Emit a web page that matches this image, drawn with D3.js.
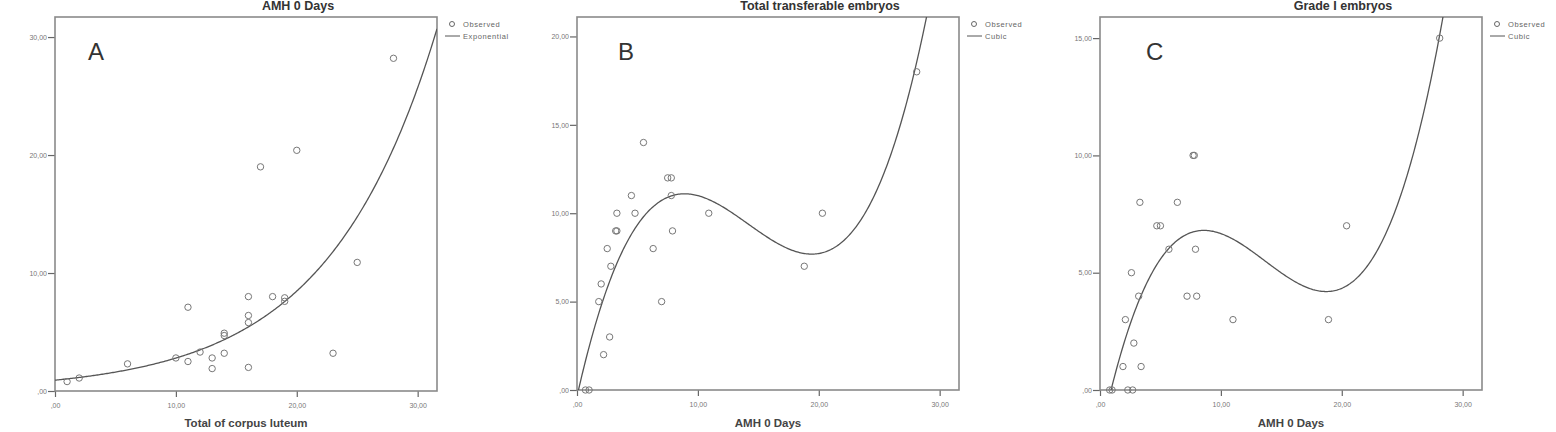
<!DOCTYPE html>
<html>
<head>
<meta charset="utf-8">
<script src="https://cdn.jsdelivr.net/npm/d3@7"></script>
<style>
  body { margin: 0; background: #fff; }
  svg { display: block; font-family: "Liberation Sans", Arial, sans-serif; -webkit-font-smoothing: antialiased; }
</style>
</head>
<body>
<svg id="chart" width="1556" height="432"></svg>
<script>
// panel A: AMH vs total corpus luteum
const corpusLuteum = [1, 2, 6, 10, 11, 11, 12, 13, 13, 14, 14, 14, 16, 16, 16, 16, 17, 18, 19, 19, 20, 23, 25, 28]
const amhA = [0.8, 1.1, 2.3, 2.8, 2.5, 7.1, 3.3, 2.8, 1.9, 4.9, 4.7, 3.2, 8.0, 6.4, 5.8, 2.0, 19.0, 8.0, 7.9, 7.6, 20.4, 3.2, 10.9, 28.2]
const expCoef = [0.92, 0.111] // y = a * exp(b x)

// panel B: transferable embryos vs AMH
const amhB = [0.7, 1.0, 1.8, 2.0, 2.2, 2.5, 2.7, 2.8, 3.2, 3.3, 3.3, 4.5, 4.8, 5.5, 6.3, 7.0, 7.5, 7.8, 7.8, 7.9, 10.9, 18.8, 20.3, 28.1]
const transferable = [0, 0, 5, 6, 2, 8, 3, 7, 9, 9, 10, 11, 10, 14, 8, 5, 12, 12, 11, 9, 10, 7, 10, 18]
const cubicB = [-0.37, 3.043, -0.2494, 0.005874]

// panel C: grade I embryos vs AMH
const amhC = [0.8, 1.0, 2.3, 2.7, 1.9, 3.4, 2.8, 2.1, 11.0, 18.9, 3.2, 7.2, 8.0, 2.6, 5.7, 7.9, 4.7, 5.0, 20.4, 3.3, 6.4, 7.7, 7.8, 28.1]
const grade1 = [0, 0, 0, 0, 1, 1, 2, 3, 3, 3, 4, 4, 4, 5, 6, 6, 7, 7, 7, 8, 8, 10, 10, 15]
const cubicC = [-2.06, 2.435, -0.2067, 0.005047]

const xTicks = [0, 10, 20, 30]

const cubic = c => x => c[0] + c[1] * x + c[2] * x * x + c[3] * x * x * x
const expo = c => x => c[0] * Math.exp(c[1] * x)

const fmt = v => v === 0 ? ',00' : v.toFixed(2).replace('.', ',')

const panels = [
  { id: 'A', title: 'AMH 0 Days', xTitle: 'Total of corpus luteum', fit: 'Exponential',
    xs: corpusLuteum, ys: amhA, f: expo(expCoef),
    left: 55, right: 437, top: 17, bottom: 391, yMax: 31.7, yTicks: [0, 10, 20, 30], letterDx: 33 },
  { id: 'B', title: 'Total transferable embryos', xTitle: 'AMH 0 Days', fit: 'Cubic',
    xs: amhB, ys: transferable, f: cubic(cubicB),
    left: 577, right: 959, top: 17, bottom: 390, yMax: 21.1, yTicks: [0, 5, 10, 15, 20], letterDx: 41 },
  { id: 'C', title: 'Grade I embryos', xTitle: 'AMH 0 Days', fit: 'Cubic',
    xs: amhC, ys: grade1, f: cubic(cubicC),
    left: 1100, right: 1482, top: 17, bottom: 390, yMax: 15.9, yTicks: [0, 5, 10, 15], letterDx: 46 }
]

const svg = d3.select('#chart')
const frameColor = '#8a8a8a'

panels.forEach((p, i) => {
  const x = d3.scaleLinear().domain([0, 31.6]).range([p.left, p.right])
  const y = d3.scaleLinear().domain([0, p.yMax]).range([p.bottom, p.top])
  const g = svg.append('g')

  // clip for the curve
  const clipId = 'clip' + i
  svg.append('clipPath').attr('id', clipId)
    .append('rect')
    .attr('x', p.left).attr('y', p.top)
    .attr('width', p.right - p.left).attr('height', p.bottom - p.top)

  // title
  g.append('text')
    .attr('x', (p.left + p.right) / 2 + 52)
    .attr('y', 10)
    .attr('text-anchor', 'middle')
    .attr('font-size', 12.5)
    .attr('font-weight', 'bold')
    .attr('fill', '#333')
    .text(p.title)

  // axes
  const xAxis = d3.axisBottom(x).tickValues(xTicks).tickFormat(fmt).tickSize(6).tickSizeOuter(0)
  const yAxis = d3.axisLeft(y).tickValues(p.yTicks).tickFormat(fmt).tickSize(7).tickSizeOuter(0)

  const gx = g.append('g').attr('transform', `translate(0,${p.bottom})`).call(xAxis)
  const gy = g.append('g').attr('transform', `translate(${p.left},0)`).call(yAxis)
  ;[gx, gy].forEach(a => {
    a.select('.domain').remove()
    a.selectAll('line').attr('stroke', '#666').attr('stroke-width', 1.2)
    a.selectAll('text').attr('font-size', 7).attr('fill', '#777').attr('font-family', '"Liberation Sans", Arial, sans-serif')
  })
  gx.selectAll('text').attr('dy', '1.1em')
  gy.selectAll('text').attr('x', -8)

  // frame
  g.append('rect')
    .attr('x', p.left).attr('y', p.top)
    .attr('width', p.right - p.left).attr('height', p.bottom - p.top)
    .attr('fill', 'none')
    .attr('stroke', frameColor)
    .attr('stroke-width', 1.6)

  // fitted curve
  const samples = d3.range(0, 31.6 + 0.001, 0.1)
  const line = d3.line().x(d => x(d)).y(d => y(p.f(d)))
  g.append('path')
    .attr('clip-path', `url(#${clipId})`)
    .attr('d', line(samples))
    .attr('fill', 'none')
    .attr('stroke', '#555')
    .attr('stroke-width', 1.3)

  // observed points
  g.selectAll('circle.obs')
    .data(p.xs.map((v, k) => [v, p.ys[k]]))
    .join('circle')
    .attr('class', 'obs')
    .attr('cx', d => x(d[0]))
    .attr('cy', d => y(d[1]))
    .attr('r', 3.2)
    .attr('fill', 'none')
    .attr('stroke', '#777')
    .attr('stroke-width', 1)

  // panel letter
  g.append('text')
    .attr('x', p.left + p.letterDx)
    .attr('y', 60)
    .attr('font-size', 24)
    .attr('fill', '#333')
    .text(p.id)

  // x axis title
  g.append('text')
    .attr('x', (p.left + p.right) / 2)
    .attr('y', 427)
    .attr('text-anchor', 'middle')
    .attr('font-size', 11.5)
    .attr('font-weight', 'bold')
    .attr('fill', '#444')
    .text(p.xTitle)

  // legend
  const lg = g.append('g').attr('transform', `translate(${p.right + 8},0)`)
  lg.append('circle').attr('cx', 7).attr('cy', 24).attr('r', 2.5)
    .attr('fill', 'none').attr('stroke', '#666').attr('stroke-width', 1)
  lg.append('text').attr('x', 18).attr('y', 26.5).attr('font-size', 7.5)
    .attr('letter-spacing', 0.6).attr('fill', '#666').text('Observed')
  lg.append('line').attr('x1', 0).attr('x2', 15).attr('y1', 36).attr('y2', 36)
    .attr('stroke', '#555').attr('stroke-width', 1)
  lg.append('text').attr('x', 18).attr('y', 38.5).attr('font-size', 7.5)
    .attr('letter-spacing', 0.6).attr('fill', '#666').text(p.fit)
})
</script>
</body>
</html>
